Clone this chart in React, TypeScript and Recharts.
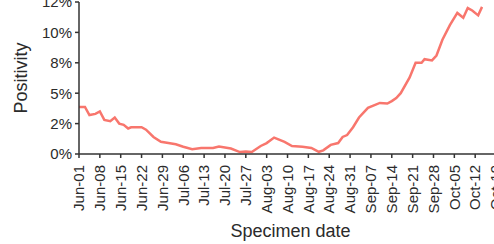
import React from 'react';
import { LineChart, Line, XAxis, YAxis } from 'recharts';

const dayOffsets = [0, 2, 3.5, 5.5, 7, 8.5, 10.5, 12, 13.5, 15, 16.5, 17.5, 21, 22.5, 25, 27.5, 30, 32.5, 35, 38, 41, 45, 47, 51, 54, 56, 58, 61, 63, 65.5, 69, 71.5, 75, 78, 80.5, 82, 84.5, 87, 88.5, 90, 92, 94, 97, 99, 101, 103.5, 105, 106.5, 108, 111, 113, 115, 116, 118.5, 120, 122, 124.5, 127, 129, 130.5, 132, 134, 135.3];
const positivity = [3.87, 3.87, 3.2, 3.3, 3.5, 2.8, 2.7, 3.0, 2.5, 2.4, 2.1, 2.2, 2.2, 2.0, 1.4, 1.0, 0.9, 0.8, 0.6, 0.4, 0.5, 0.5, 0.62, 0.45, 0.16, 0.2, 0.16, 0.66, 0.9, 1.35, 1.0, 0.66, 0.6, 0.5, 0.18, 0.3, 0.75, 0.9, 1.4, 1.56, 2.2, 3.0, 3.8, 4.0, 4.2, 4.15, 4.35, 4.6, 5.0, 6.3, 7.5, 7.5, 7.8, 7.7, 8.1, 9.4, 10.6, 11.6, 11.2, 12.0, 11.8, 11.4, 12.1];

const xTickDays = [0, 7, 14, 21, 28, 35, 42, 49, 56, 63, 70, 77, 84, 91, 98, 105, 112, 119, 126, 133, 140];
const xTickLabels = ['Jun-01', 'Jun-08', 'Jun-15', 'Jun-22', 'Jun-29', 'Jul-06', 'Jul-13', 'Jul-20', 'Jul-27', 'Aug-03', 'Aug-10', 'Aug-17', 'Aug-24', 'Aug-31', 'Sep-07', 'Sep-14', 'Sep-21', 'Sep-28', 'Oct-05', 'Oct-12', 'Oct-19'];
const yTickValues = [0, 2.5, 5, 7.5, 10, 12.5];
const yTickLabels = ['0%', '2%', '5%', '8%', '10%', '12%'];

const data = dayOffsets.map((d, i) => ({ day: d, value: positivity[i] }));

const FONT = '"Liberation Sans", Arial, sans-serif';
const TEXT = '#2b2b2b';

const XTick = (props: any) => {
  const { x, y, payload } = props;
  const idx = xTickDays.indexOf(payload.value);
  return (
    <g transform={`translate(${x},${y})`}>
      <text
        transform="rotate(-90)"
        x={-4}
        y={0}
        dy="0.35em"
        textAnchor="end"
        fill={TEXT}
        fontSize={15}
        fontFamily={FONT}
      >
        {idx >= 0 ? xTickLabels[idx] : ''}
      </text>
    </g>
  );
};

export default function App() {
  return (
    <div style={{ position: 'absolute', left: 0, top: 0, width: 494, height: 244, overflow: 'hidden', background: '#fff' }}>
      <LineChart width={502} height={244} data={data} margin={{ top: 2, right: 0, bottom: 0, left: 0 }}>
        <XAxis
          dataKey="day"
          type="number"
          domain={[0, 142]}
          ticks={xTickDays}
          interval={0}
          tick={<XTick />}
          tickSize={4}
          tickMargin={3}
          height={90}
          stroke="#333"
          strokeWidth={1.5}
          allowDataOverflow
          label={{ value: 'Specimen date', position: 'insideBottom', offset: 7, fill: TEXT, fontSize: 18, fontFamily: FONT }}
        />
        <YAxis
          type="number"
          domain={[0, 12.5]}
          ticks={yTickValues}
          interval={0}
          width={79}
          tickSize={4}
          tickMargin={3}
          stroke="#333"
          strokeWidth={1.5}
          tickFormatter={(v: number) => yTickLabels[yTickValues.indexOf(v)] ?? ''}
          tick={{ fill: TEXT, fontSize: 15, fontFamily: FONT }}
          label={{ value: 'Positivity', angle: -90, position: 'insideLeft', offset: 21, fill: TEXT, fontSize: 18, fontFamily: FONT, style: { textAnchor: 'middle' } }}
        />
        <Line
          type="linear"
          dataKey="value"
          stroke="#F8766D"
          strokeWidth={2.5}
          dot={false}
          isAnimationActive={false}
        />
      </LineChart>
    </div>
  );
}
